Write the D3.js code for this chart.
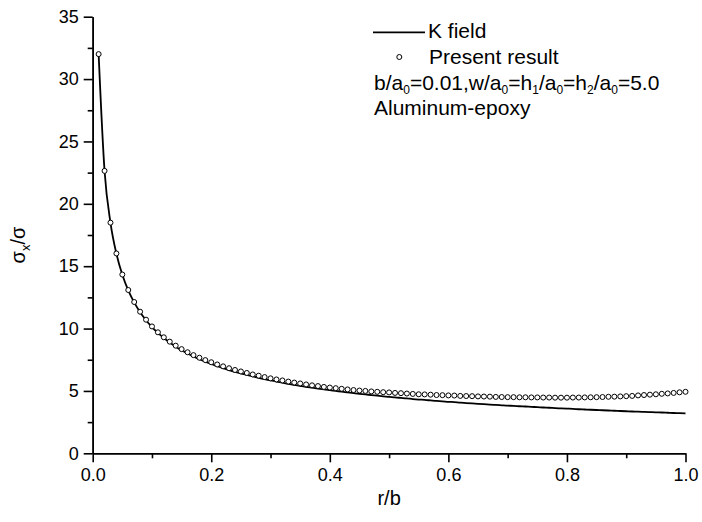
<!DOCTYPE html>
<html>
<head>
<meta charset="utf-8">
<script src="https://cdn.jsdelivr.net/npm/d3@7"></script>
<style>
  html, body { margin: 0; padding: 0; background: #fff; }
  svg text { font-family: "Liberation Sans", Arial, Helvetica, sans-serif; fill: #000; }
</style>
</head>
<body>
<svg id="chart" width="702" height="522"></svg>
<script>
// r/b positions (shared by both series)
const rValues = [0.01,0.02,0.03,0.04,0.05,0.06,0.07,0.08,0.09,0.10,
  0.11,0.12,0.13,0.14,0.15,0.16,0.17,0.18,0.19,0.20,
  0.21,0.22,0.23,0.24,0.25,0.26,0.27,0.28,0.29,0.30,
  0.31,0.32,0.33,0.34,0.35,0.36,0.37,0.38,0.39,0.40,
  0.41,0.42,0.43,0.44,0.45,0.46,0.47,0.48,0.49,0.50,
  0.51,0.52,0.53,0.54,0.55,0.56,0.57,0.58,0.59,0.60,
  0.61,0.62,0.63,0.64,0.65,0.66,0.67,0.68,0.69,0.70,
  0.71,0.72,0.73,0.74,0.75,0.76,0.77,0.78,0.79,0.80,
  0.81,0.82,0.83,0.84,0.85,0.86,0.87,0.88,0.89,0.90,
  0.91,0.92,0.93,0.94,0.95,0.96,0.97,0.98,0.99,1.00];

// K field (solid line)
const kField = [32.00,22.63,18.48,16.00,14.31,13.06,12.10,11.31,10.67,10.12,
  9.65,9.24,8.88,8.55,8.26,8.00,7.76,7.54,7.34,7.16,
  6.98,6.82,6.67,6.53,6.40,6.28,6.16,6.05,5.94,5.84,
  5.75,5.66,5.57,5.49,5.41,5.33,5.26,5.19,5.12,5.06,
  5.00,4.94,4.88,4.82,4.77,4.72,4.67,4.62,4.57,4.53,
  4.48,4.44,4.40,4.35,4.31,4.28,4.24,4.20,4.17,4.13,
  4.10,4.06,4.03,4.00,3.97,3.94,3.91,3.88,3.85,3.82,
  3.80,3.77,3.75,3.72,3.70,3.67,3.65,3.62,3.60,3.58,
  3.56,3.53,3.51,3.49,3.47,3.45,3.43,3.41,3.39,3.37,
  3.35,3.34,3.32,3.30,3.28,3.27,3.25,3.23,3.22,3.20];

// Present result (open circles)
const presentResult = [32.00,22.64,18.49,16.02,14.33,13.09,12.13,11.35,10.71,10.17,
  9.70,9.30,8.95,8.63,8.35,8.10,7.87,7.66,7.47,7.30,
  7.12,6.97,6.82,6.68,6.56,6.44,6.32,6.22,6.11,6.01,
  5.92,5.84,5.75,5.67,5.60,5.52,5.45,5.39,5.32,5.27,
  5.22,5.17,5.12,5.07,5.03,5.00,4.96,4.93,4.90,4.88,
  4.84,4.82,4.79,4.76,4.73,4.72,4.70,4.67,4.66,4.64,
  4.63,4.60,4.59,4.58,4.56,4.55,4.54,4.52,4.51,4.50,
  4.50,4.49,4.49,4.48,4.48,4.47,4.47,4.46,4.46,4.46,
  4.47,4.47,4.48,4.49,4.50,4.51,4.53,4.54,4.56,4.58,
  4.60,4.64,4.67,4.70,4.73,4.77,4.80,4.84,4.89,4.93];

const xMajorTicks = [0.0,0.2,0.4,0.6,0.8,1.0];
const xMinorTicks = [0.1,0.3,0.5,0.7,0.9];
const yMajorTicks = [0,5,10,15,20,25,30,35];
const yMinorTicks = [2.5,7.5,12.5,17.5,22.5,27.5,32.5];

const svg = d3.select("#chart");
const x = d3.scaleLinear().domain([0, 1]).range([92.7, 685.5]);
const y = d3.scaleLinear().domain([0, 35]).range([453.3, 16.7]);

// Axes
function styleAxis(g) {
  g.selectAll("path.domain").attr("stroke", "#000").attr("stroke-width", 1.6);
  g.selectAll(".tick line").attr("stroke", "#000").attr("stroke-width", 1.6);
  g.selectAll(".tick text").attr("font-size", 18).attr("font-family", "Liberation Sans, Arial, sans-serif").attr("fill", "#000");
}

svg.append("g").attr("transform", "translate(0,453.3)")
  .call(d3.axisBottom(x).tickValues(xMinorTicks).tickSize(5).tickSizeOuter(0).tickFormat(""))
  .call(styleAxis);
svg.append("g").attr("transform", "translate(0,453.3)")
  .call(d3.axisBottom(x).tickValues(xMajorTicks).tickSize(9).tickSizeOuter(0).tickPadding(6).tickFormat(d3.format(".1f")))
  .call(styleAxis);

svg.append("g").attr("transform", "translate(92.7,0)")
  .call(d3.axisLeft(y).tickValues(yMinorTicks).tickSize(5).tickSizeOuter(0).tickFormat(""))
  .call(styleAxis);
svg.append("g").attr("transform", "translate(92.7,0)")
  .call(d3.axisLeft(y).tickValues(yMajorTicks).tickSize(9).tickSizeOuter(0).tickPadding(5).tickFormat(d3.format("d")))
  .call(styleAxis);

// K field line
const lineData = rValues.map((r, i) => [r, kField[i]]);
svg.append("path")
  .datum(lineData)
  .attr("fill", "none")
  .attr("stroke", "#000")
  .attr("stroke-width", 1.8)
  .attr("d", d3.line().x(d => x(d[0])).y(d => y(d[1])).curve(d3.curveMonotoneX));

// Present result circles
svg.append("g").selectAll("circle")
  .data(rValues.map((r, i) => [r, presentResult[i]]))
  .join("circle")
  .attr("cx", d => x(d[0]))
  .attr("cy", d => y(d[1]))
  .attr("r", 2.5)
  .attr("fill", "#fff")
  .attr("stroke", "#000")
  .attr("stroke-width", 1);

// Axis titles
svg.append("text")
  .attr("x", (x(0) + x(1)) / 2).attr("y", 505)
  .attr("text-anchor", "middle").attr("font-size", 20)
  .text("r/b");

const yl = svg.append("text")
  .attr("transform", "translate(25,245) rotate(-90)")
  .attr("text-anchor", "middle").attr("font-size", 20);
yl.append("tspan").text("σ");
yl.append("tspan").attr("font-size", 13).attr("dy", 5).text("x");
yl.append("tspan").attr("dy", -5).text("/σ");

// Legend
const lg = svg.append("g");
lg.append("line").attr("x1", 373).attr("x2", 425).attr("y1", 32.3).attr("y2", 32.3)
  .attr("stroke", "#000").attr("stroke-width", 1.8);
lg.append("text").attr("x", 428).attr("y", 37.5).attr("font-size", 21).text("K field");
lg.append("circle").attr("cx", 399.3).attr("cy", 57).attr("r", 2.5)
  .attr("fill", "#fff").attr("stroke", "#000").attr("stroke-width", 1);
lg.append("text").attr("x", 429).attr("y", 64).attr("font-size", 21).text("Present result");

const t3 = lg.append("text").attr("x", 374).attr("y", 90).attr("font-size", 21);
function sub(s) { t3.append("tspan").attr("font-size", 12).attr("dy", 4).text(s); }
function norm(s) { t3.append("tspan").attr("dy", -4).text(s); }
t3.append("tspan").text("b/a");
sub("0"); norm("=0.01,w/a");
sub("0"); norm("=h");
sub("1"); norm("/a");
sub("0"); norm("=h");
sub("2"); norm("/a");
sub("0"); norm("=5.0");

lg.append("text").attr("x", 374).attr("y", 115).attr("font-size", 21).text("Aluminum-epoxy");
</script>
</body>
</html>
